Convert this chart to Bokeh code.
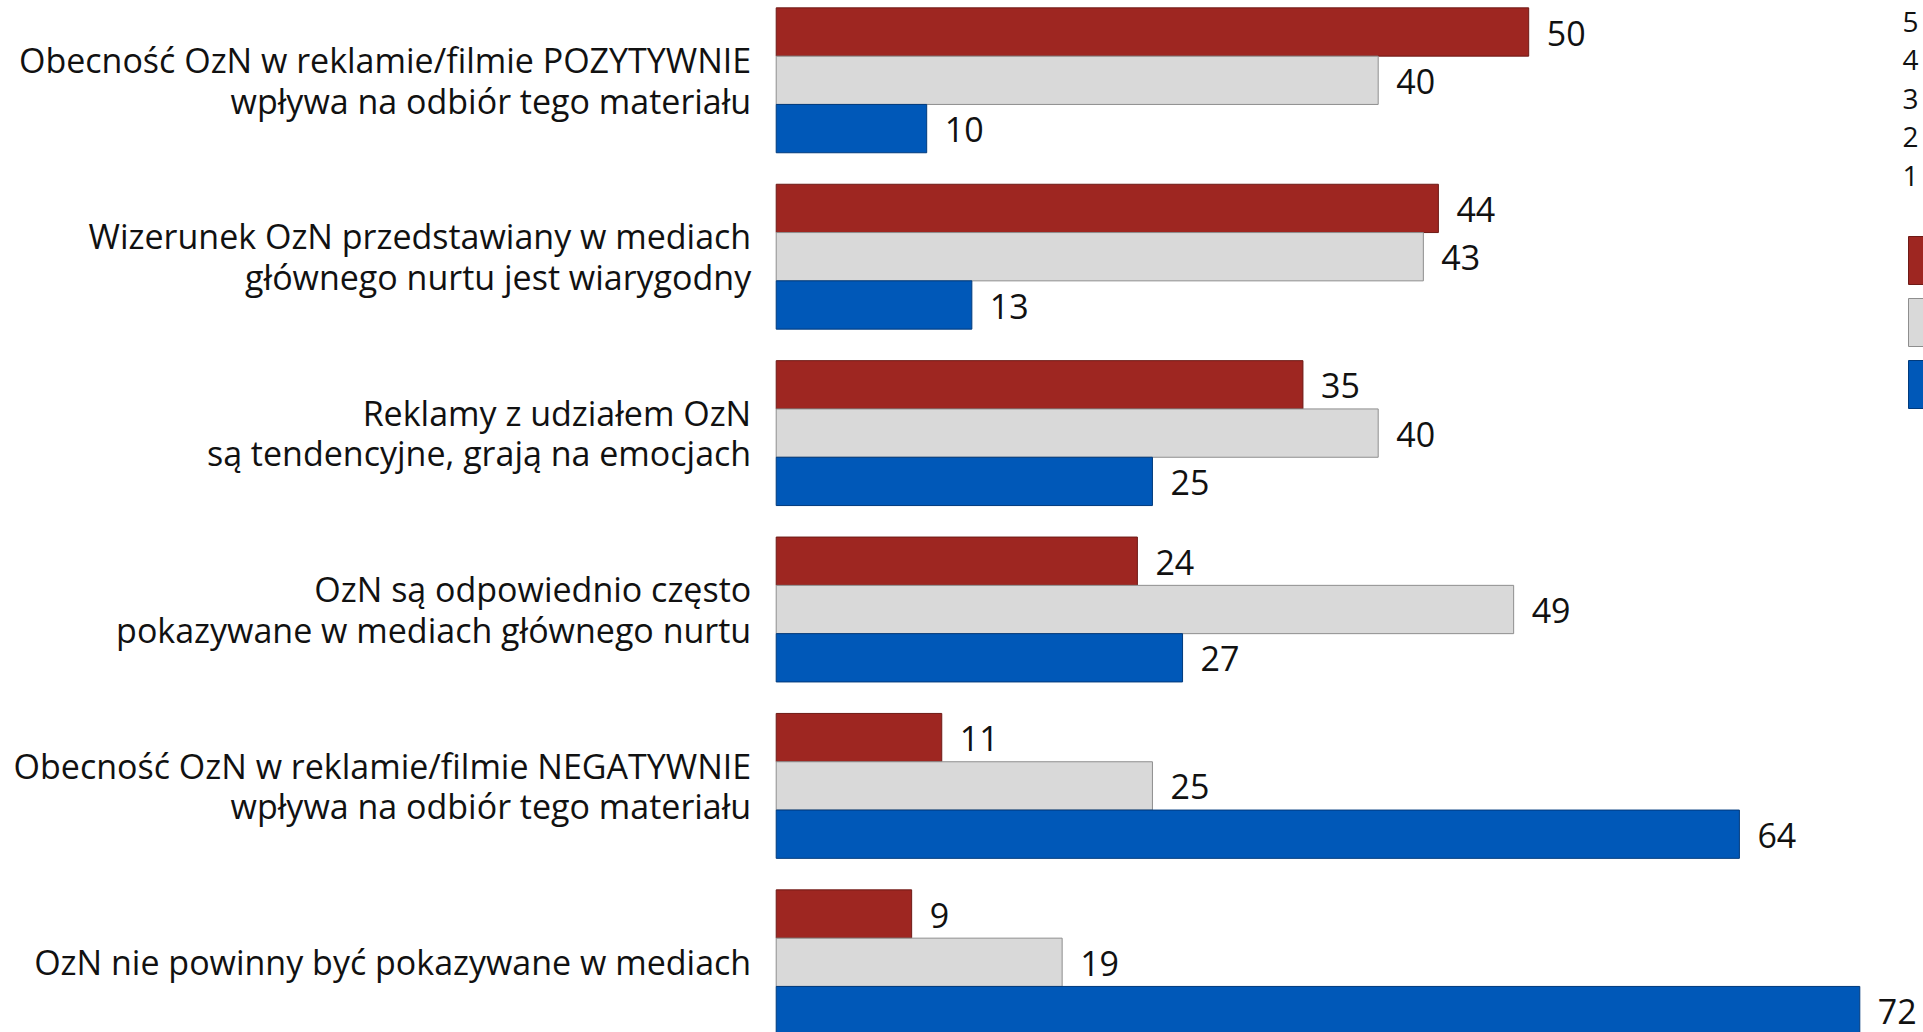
from bokeh.plotting import figure
from bokeh.models import Range1d, ColumnDataSource
from bokeh.core.properties import value
from bokeh.embed import file_html
from bokeh.resources import INLINE

# Survey statements (two-line labels separated by "\n")
statements = [
    "Obecność OzN w reklamie/filmie POZYTYWNIE\nwpływa na odbiór tego materiału",
    "Wizerunek OzN przedstawiany w mediach\ngłównego nurtu jest wiarygodny",
    "Reklamy z udziałem OzN\nsą tendencyjne, grają na emocjach",
    "OzN są odpowiednio często\npokazywane w mediach głównego nurtu",
    "Obecność OzN w reklamie/filmie NEGATYWNIE\nwpływa na odbiór tego materiału",
    "OzN nie powinny być pokazywane w mediach",
]
# Answer shares in %
zgadzam_sie = [50, 44, 35, 24, 11, 9]
ani_ani = [40, 43, 40, 49, 25, 19]
nie_zgadzam = [10, 13, 25, 27, 64, 72]
scale_labels = ["5", "4", "3", "2", "1"]

W, H = 1923, 1032
PX_PER_UNIT = 15.05      # horizontal pixels per percentage point
X0_PX = 775.7            # pixel position of the 0% baseline
GROUP_PX = 176.4         # vertical pitch between statements
FIRST_PX = 79.8          # pixel centre of the first statement
BAR_PX = 48.3            # thickness of one bar

RED, RED_EDGE = "#9e2621", "#6e1a16"
GREY, GREY_EDGE = "#d9d9d9", "#8e8e8e"
BLUE, BLUE_EDGE = "#0058b8", "#003a7c"

CAT_FONT = "Open Sans"
NUM_FONT = "Open Sans"


def px_x(px):
    return (px - X0_PX) / PX_PER_UNIT


def px_y(py):
    return (py - FIRST_PX) / GROUP_PX


p = figure(width=W, height=H, output_backend="svg", toolbar_location=None,
           x_range=Range1d(px_x(0), px_x(W)), y_range=Range1d(px_y(H), px_y(0)),
           min_border=0, background_fill_color="white", border_fill_color="white")
p.outline_line_color = None
p.axis.visible = False
p.grid.visible = False

bh = BAR_PX / GROUP_PX
n = len(statements)
series = [(zgadzam_sie, -bh, RED, RED_EDGE),
          (ani_ani, 0.0, GREY, GREY_EDGE),
          (nie_zgadzam, bh, BLUE, BLUE_EDGE)]

for vals, off, fill, edge in series:
    src = ColumnDataSource(dict(y=[i + off for i in range(n)], v=vals,
                                t=[str(v) for v in vals]))
    p.hbar(y="y", left=0, right="v", height=bh, source=src,
           fill_color=fill, line_color=edge, line_width=1)
    p.text(x="v", y="y", text="t", source=src, x_offset=18, y_offset=1,
           text_font=value(NUM_FONT), text_font_size="34px",
           text_baseline="middle", text_align="left", text_color="#111111")

# statement labels, right aligned left of the baseline
lx, ly, lt = [], [], []
LINE_PX = 40.5
for i, s in enumerate(statements):
    lines = s.split("\n")
    k = len(lines)
    for j, line in enumerate(lines):
        lx.append(px_x(X0_PX - 25))
        ly.append(i + (j - (k - 1) / 2) * LINE_PX / GROUP_PX)
        lt.append(line)
p.text(x=lx, y=ly, text=lt, text_font=value(CAT_FONT), text_font_size="34px",
       text_align="right", text_baseline="middle", text_color="#111111")

# legend at the right edge
p.text(x=[px_x(1902)] * len(scale_labels),
       y=[px_y(21 + 38.5 * i) for i in range(len(scale_labels))],
       text=scale_labels, text_font=value(NUM_FONT), text_font_size="28px",
       text_align="left", text_baseline="middle", text_color="#111111")
sw_top = [236, 298, 360]
p.quad(left=px_x(1908), right=px_x(1990),
       top=[px_y(t) for t in sw_top], bottom=[px_y(t + 48) for t in sw_top],
       fill_color=[RED, GREY, BLUE], line_color=[RED_EDGE, GREY_EDGE, BLUE_EDGE],
       line_width=1)

open("out.html", "w").write(file_html(p, INLINE))
